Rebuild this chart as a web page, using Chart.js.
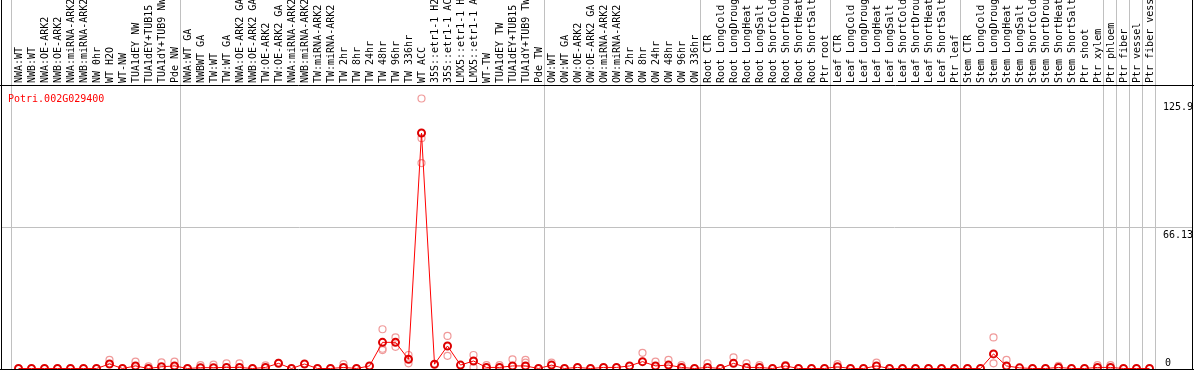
<!DOCTYPE html>
<html>
<head>
<meta charset="utf-8">
<script src="https://cdn.jsdelivr.net/npm/chart.js@4.4.1/dist/chart.umd.min.js"></script>
<style>
  html, body { margin: 0; padding: 0; background: #fff; }
  #wrap { width: 1194px; height: 370px; position: relative; }
</style>
</head>
<body>
<div id="wrap"><canvas id="efp"></canvas></div>
<script>
const GENE = "Potri.002G029400";

/* ---------- DATA ---------- */
const samples = [
  "NWA:WT", "NWB:WT", "NWA:OE-ARK2", "NWB:OE-ARK2", "NWA:miRNA-ARK2", "NWB:miRNA-ARK2",
  "NW 0hr", "WT H2O", "WT-NW", "TUA1dEY NW", "TUA1dEY+TUB15 NW", "TUA1dY+TUB9 NW", "Pde NW",
  "NWA:WT GA", "NWBWT GA", "TW:WT", "TW:WT GA", "NWA:OE-ARK2 GA", "NWB:OE-ARK2 GA",
  "TW:OE-ARK2", "TW:OE-ARK2 GA", "NWA:miRNA-ARK2 GA", "NWB:miRNA-ARK2 GA", "TW:miRNA-ARK2",
  "TW:miRNA-ARK2 GA", "TW 2hr", "TW 8hr", "TW 24hr", "TW 48hr", "TW 96hr", "TW 336hr",
  "WT ACC", "35S::etr1-1 H2O", "35S::etr1-1 ACC", "LMX5::etr1-1 H2O", "LMX5::etr1-1 ACC",
  "WT-TW", "TUA1dEY TW", "TUA1dEY+TUB15 TW", "TUA1dY+TUB9 TW", "Pde TW",
  "OW:WT", "OW:WT GA", "OW:OE-ARK2", "OW:OE-ARK2 GA", "OW:miRNA-ARK2", "OW:miRNA-ARK2 GA",
  "OW 2hr", "OW 8hr", "OW 24hr", "OW 48hr", "OW 96hr", "OW 336hr",
  "Root CTR", "Root LongCold", "Root LongDrought", "Root LongHeat", "Root LongSalt",
  "Root ShortCold", "Root ShortDrought", "Root ShortHeat", "Root ShortSalt", "Ptr root",
  "Leaf CTR", "Leaf LongCold", "Leaf LongDrought", "Leaf LongHeat", "Leaf LongSalt",
  "Leaf ShortCold", "Leaf ShortDrought", "Leaf ShortHeat", "Leaf ShortSalt", "Ptr leaf",
  "Stem CTR", "Stem LongCold", "Stem LongDrought", "Stem LongHeat", "Stem LongSalt",
  "Stem ShortCold", "Stem ShortDrought", "Stem ShortHeat", "Stem ShortSalt", "Ptr shoot", "Ptr xylem",
  "Ptr phloem", "Ptr fiber", "Ptr vessel", "Ptr fiber vessel"
];

// first sample index of each group (grey separators)
const groupStarts = [0, 13, 41, 53, 63, 73, 84, 85, 86, 87];

// mean expression per sample
const means = [
  0, 0, 0, 0, 0, 0, 0, 2.1, 0, 1.2,
  0, 0.8, 1.2, 0, 0.4, 0.4, 0.5, 0.5, 0, 0.5,
  2.4, 0, 2.1, 0, 0, 0.5, 0, 1.2, 12.2, 12.2,
  4.3, 109.8, 2.0, 10.5, 1.6, 3.5, 0.5, 0.5, 1.2, 1.2,
  0, 1.6, 0, 0.5, 0, 0.5, 0.5, 1.2, 3.2, 1.2,
  1.6, 0.5, 0, 0.5, 0, 2.4, 0.5, 0.5, 0, 1.2,
  0, 0, 0, 0.8, 0, 0, 1.2, 0, 0, 0,
  0, 0, 0, 0, 0, 6.8, 1.2, 0.3, 0, 0,
  0.5, 0, 0, 0.5, 0.5, 0, 0, 0
];

// visible replicate values: [sample index, value]
const replicates = [
  [7, 4.0], [9, 3.2], [10, 1.0], [11, 2.9], [12, 3.2], [14, 1.6], [15, 1.8], [16, 2.4],
  [17, 2.4], [19, 1.5], [20, 2.6], [25, 2.0], [28, 18.3], [28, 9.2], [28, 8.6],
  [29, 14.5], [29, 10.1], [30, 6.3], [30, 2.4], [31, 125.9], [31, 107.4], [31, 95.8],
  [33, 15.2], [33, 5.9], [35, 6.3], [35, 0.5], [36, 1.6], [37, 1.6], [38, 4.3],
  [39, 4.0], [39, 2.7], [41, 2.7], [48, 7.3], [49, 3.2], [50, 4.0], [51, 1.6],
  [53, 2.4], [55, 5.2], [56, 2.4], [57, 1.6], [59, 1.6], [63, 2.0], [66, 2.7],
  [75, 14.5], [75, 2.4], [76, 4.0], [80, 1.2], [83, 1.6], [84, 1.6]
];

const yTicks = [0, 66.13, 125.9];
const yMax = 130.8;

/* ---------- FRAME / LABELS PLUGIN ---------- */
const FONT = "10px 'DejaVu Sans Mono', monospace";

const efpFrame = {
  id: "efpFrame",
  beforeDatasetsDraw(chart) {
    const { ctx, scales: { x, y } } = chart;
    const W = chart.width, H = chart.height;
    ctx.save();
    ctx.strokeStyle = "#c0c0c0";
    ctx.lineWidth = 1;
    groupStarts.concat([samples.length]).forEach(g => {
      const px = Math.round(x.getPixelForValue(g - 0.6)) + 0.5;
      ctx.beginPath(); ctx.moveTo(px, 0); ctx.lineTo(px, H); ctx.stroke();
    });
    const gy = Math.round(y.getPixelForValue(yTicks[1])) + 0.5;
    ctx.beginPath(); ctx.moveTo(2, gy); ctx.lineTo(W - 2, gy); ctx.stroke();
    ctx.restore();
  },
  afterDatasetsDraw(chart) {
    const { ctx, scales: { x, y } } = chart;
    const W = chart.width, H = chart.height;
    ctx.save();
    ctx.font = FONT;

    // sample names, vertical
    ctx.fillStyle = "#000";
    ctx.textAlign = "left";
    ctx.textBaseline = "middle";
    samples.forEach((s, i) => {
      ctx.save();
      ctx.translate(x.getPixelForValue(i) + 0.5, 83);
      ctx.rotate(-Math.PI / 2);
      ctx.fillText(s, 0, 0);
      ctx.restore();
    });

    // y values at right
    ctx.textBaseline = "alphabetic";
    yTicks.forEach(t => {
      const py = Math.min(y.getPixelForValue(t) + 11, H - 4);
      ctx.fillText(String(t), t === 0 ? 1165 : 1163, py);
    });

    // gene id
    ctx.fillStyle = "#ff0000";
    ctx.fillText(GENE, 8, 102);

    // black frame
    ctx.strokeStyle = "#000";
    ctx.lineWidth = 1;
    ctx.beginPath();
    ctx.moveTo(0, 85.5); ctx.lineTo(W, 85.5);
    ctx.moveTo(0, 369.5); ctx.lineTo(W, 369.5);
    ctx.moveTo(1.5, 0); ctx.lineTo(1.5, H);
    ctx.moveTo(1192.5, 0); ctx.lineTo(1192.5, H);
    ctx.stroke();
    ctx.restore();
  }
};

/* ---------- CHART ---------- */
new Chart(document.getElementById("efp"), {
  type: "line",
  data: {
    datasets: [
      {
        label: GENE,
        data: means.map((v, i) => ({ x: i, y: v })),
        borderColor: "#ff0000",
        borderWidth: 1,
        pointRadius: 3.5,
        pointBorderWidth: 2,
        pointBorderColor: "#dd0000",
        pointBackgroundColor: "rgba(0,0,0,0)",
        tension: 0,
        clip: false
      },
      {
        label: "replicates",
        data: replicates.map(r => ({ x: r[0], y: r[1] })),
        showLine: false,
        pointRadius: 3.5,
        pointBorderWidth: 1.2,
        pointBorderColor: "#f09a9a",
        pointBackgroundColor: "rgba(0,0,0,0)",
        clip: false
      }
    ]
  },
  options: {
    animation: false,
    responsive: true,
    maintainAspectRatio: false,
    events: [],
    layout: { autoPadding: false, padding: { top: 88, bottom: 1.5, left: 1, right: 2 } },
    scales: {
      x: { type: "linear", min: -1.3462, max: 90.2692, display: false },
      y: { type: "linear", min: 0, max: yMax, display: false }
    },
    plugins: { legend: { display: false }, tooltip: { enabled: false } }
  },
  plugins: [efpFrame]
});
</script>
</body>
</html>
